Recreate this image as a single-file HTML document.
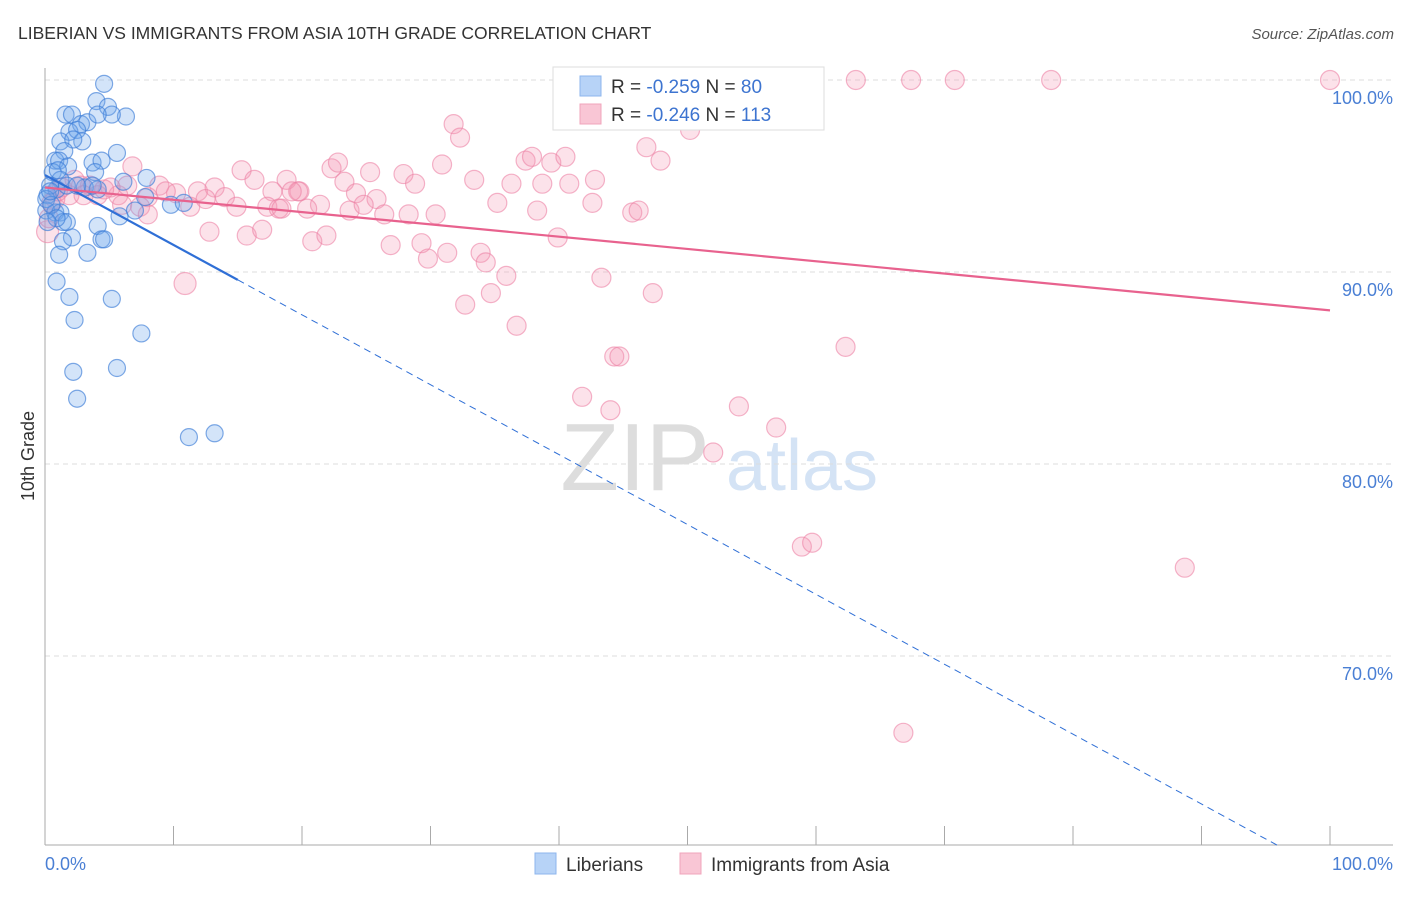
<!DOCTYPE html>
<html><head><meta charset="utf-8"><style>
body{margin:0;background:#fff;font-family:"Liberation Sans",sans-serif;}
svg text{font-family:"Liberation Sans",sans-serif;}
</style></head><body>
<svg id="chart" width="1406" height="892">
<text x="18" y="39" font-size="17.5" fill="#333">LIBERIAN VS IMMIGRANTS FROM ASIA 10TH GRADE CORRELATION CHART</text>
<text x="1394" y="39" font-size="15" font-style="italic" fill="#555" text-anchor="end">Source: ZipAtlas.com</text>
<text x="0" y="0" transform="translate(34,456) rotate(-90)" font-size="18" fill="#333" text-anchor="middle">10th Grade</text>
<g><text x="635" y="490" font-size="96" font-family="Liberation Serif" fill="#ddd" text-anchor="middle">ZIP</text><text x="802" y="490" font-size="72" fill="#d4e3f5" text-anchor="middle">atlas</text></g>
<g id="grid"></g><g id="axes"></g><g id="pts"></g><g id="trend"></g>
<g>
<rect x="553" y="67" width="271" height="63" fill="#fff" stroke="#ddd"/>
<rect x="580" y="76" width="21" height="20" fill="#b7d3f7" stroke="#8db6ec"/>
<rect x="580" y="104" width="21" height="20" fill="#f9c6d5" stroke="#f0a4bb"/>
<text x="611" y="93" font-size="19" fill="#333">R = <tspan fill="#3d74d0">-0.259</tspan>   N = <tspan fill="#3d74d0"> 80</tspan></text>
<text x="611" y="121" font-size="19" fill="#333">R = <tspan fill="#3d74d0">-0.246</tspan>   N = <tspan fill="#3d74d0">113</tspan></text>
</g>
<g>
<rect x="535" y="853" width="21" height="21" fill="#b7d3f7" stroke="#8db6ec"/>
<text x="566" y="871" font-size="19" fill="#333">Liberians</text>
<rect x="680" y="853" width="21" height="21" fill="#f9c6d5" stroke="#f0a4bb"/>
<text x="711" y="871" font-size="19" fill="#333">Immigrants from Asia</text>
</g>
</svg>
<script>
const blueX=[4.6,4.0,4.9,1.6,2.1,6.3,5.2,2.8,3.3,1.9,2.5,1.2,2.9,2.2,4.1,1.5,5.6,0.8,1.1,3.7,4.4,1.8,3.9,7.9,0.6,1.2,3.1,4.1,0.9,0.2,0.1,0.8,1.2,1.4,1.7,4.1,7.0,5.8,7.8,9.8,10.8,2.1,4.4,4.6,1.4,1.1,3.3,0.9,1.9,5.2,2.3,7.5,2.2,5.6,2.5,11.2,13.2,0.4,0.1,0.5,0.9,0.2,1.0,0.4,1.7,3.7,2.5,6.1];
const blueY=[99.8,98.9,98.6,98.2,98.2,98.1,98.2,97.7,97.8,97.3,97.4,96.8,96.8,96.9,98.2,96.3,96.2,95.8,95.8,95.7,95.8,95.5,95.2,94.9,95.2,94.8,94.4,94.3,94.3,94.0,93.2,93.1,93.1,92.6,92.6,92.4,93.2,92.9,93.9,93.5,93.6,91.8,91.7,91.7,91.6,90.9,91.0,89.5,88.7,88.6,87.5,86.8,84.8,85.0,83.4,81.4,81.6,94.5,93.8,93.5,92.8,92.6,95.3,94.2,94.5,94.5,94.5,94.7];
const pinkX=[10.9,0.2,6.8,8.9,10.2,11.9,13.2,15.3,16.3,18.8,17.7,19.8,21.4,22.3,22.8,23.3,24.2,25.3,25.8,23.7,24.8,26.4,27.9,28.8,28.3,30.4,30.9,31.8,32.3,33.4,35.2,36.3,37.4,37.9,39.4,40.5,38.7,40.8,38.3,42.6,42.8,45.7,46.2,46.8,47.9,50.2,53.3,54.5,63.1,67.4,70.8,78.3,100,12.8,15.7,16.9,20.8,21.9,26.9,29.3,31.3,29.8,33.9,34.3,35.9,34.7,32.7,36.7,43.3,47.3,39.9,44.3,44.7,41.8,44.0,54.0,56.9,52.0,62.3,58.9,59.7,88.7,66.8,8.0,14.0,14.9,17.3,18.2,20.4,5.7,6.4,5.1,4.1,3.5,1.3,1.9,0.8,2.3,7.4,8.0,11.3,12.5,9.4,19.7,18.4,19.2,0.5,1.0,2.8,0.3,3.0,4.6,6.0];
const pinkY=[89.4,92.1,95.5,94.5,94.1,94.2,94.4,95.3,94.8,94.8,94.2,94.2,93.5,95.4,95.7,94.7,94.1,95.2,93.8,93.2,93.5,93.0,95.1,94.6,93.0,93.0,95.6,97.7,97.0,94.8,93.6,94.6,95.8,96.0,95.7,96.0,94.6,94.6,93.2,93.6,94.8,93.1,93.2,96.5,95.8,97.4,100,98.2,100,100,100,100,100,92.1,91.9,92.2,91.6,91.9,91.4,91.5,91.0,90.7,91.0,90.5,89.8,88.9,88.3,87.2,89.7,88.9,91.8,85.6,85.6,83.5,82.8,83.0,81.9,80.6,86.1,75.7,75.9,74.6,66.0,93.9,93.9,93.4,93.4,93.3,93.3,94.0,94.5,94.4,94.0,94.5,94.4,94.0,93.8,94.8,93.4,93.0,93.4,93.8,94.2,94.2,93.3,94.2,93.6,94.2,94.5,92.8,94.0,94.3,93.5];
const yTicks=[100,90,80,70];
const yTickLabels=["100.0%","90.0%","80.0%","70.0%"];
const xTickVals=[0,10,20,30,40,50,60,70,80,90,100];
const blueTrend=[95.05,-0.544*12.85/19.2*10];
const NS="http://www.w3.org/2000/svg";
const X0=45,XW=12.85,Y100=80,YU=19.2;
function sx(v){return X0+v*XW;}
function sy(v){return Y100+(100-v)*YU;}
function mk(t,a,p){const e=document.createElementNS(NS,t);for(const k in a)e.setAttribute(k,a[k]);p.appendChild(e);return e;}
const grid=document.getElementById('grid'),axes=document.getElementById('axes');
yTicks.forEach((t,i)=>{
 const l=mk('line',{x1:45,x2:1393,y1:sy(t),y2:sy(t),stroke:'#ddd','stroke-dasharray':'5,4'},grid);
 
 
 const tx=mk('text',{x:1393,y:sy(t)+24,'font-size':18,fill:'#4a7fd4','text-anchor':'end'},axes);
 tx.textContent=yTickLabels[i];
 
 
});
const ya=mk('line',{x1:45,x2:45,y1:68,y2:845,stroke:'#aaa'},axes);


const xa=mk('line',{x1:45,x2:1393,y1:845,y2:845,stroke:'#aaa'},axes);


xTickVals.forEach(v=>{
 const t=mk('line',{x1:sx(v),x2:sx(v),y1:826,y2:845,stroke:'#aaa'},axes);
 
 
});
const xl0=mk('text',{x:45,y:870,'font-size':18,fill:'#4a7fd4'},axes);xl0.textContent="0.0%";


const xl1=mk('text',{x:1393,y:870,'font-size':18,fill:'#4a7fd4','text-anchor':'end'},axes);xl1.textContent="100.0%";


const pts=document.getElementById('pts');
pinkX.forEach((x,i)=>{
 const r=(i<2)?11:9.5;
 const c=mk('circle',{cx:sx(x),cy:sy(pinkY[i]),r:r,fill:'rgba(244,150,180,0.28)',stroke:'rgba(236,130,165,0.6)','stroke-width':1.2},pts);
 
 
});
blueX.forEach((x,i)=>{
 const c=mk('circle',{cx:sx(x),cy:sy(blueY[i]),r:8.5,fill:'rgba(110,165,235,0.3)',stroke:'rgba(60,125,215,0.65)','stroke-width':1.2},pts);
 
 
});
const tr=document.getElementById('trend');
const bA=95.05,bB=-0.364,pA=94.4,pB=-0.064;
const bl=mk('line',{x1:sx(0),y1:sy(bA),x2:sx(15),y2:sy(bA+bB*15),stroke:'#2f6fd6','stroke-width':2.2},tr);


const bd=mk('line',{x1:sx(15),y1:sy(bA+bB*15),x2:sx(96),y2:sy(bA+bB*96),stroke:'#2f6fd6','stroke-width':1,'stroke-dasharray':'7,5'},tr);


const pl=mk('line',{x1:sx(0),y1:sy(pA),x2:sx(100),y2:sy(pA+pB*100),stroke:'#e8628e','stroke-width':2.2},tr);


</script>
</body></html>
